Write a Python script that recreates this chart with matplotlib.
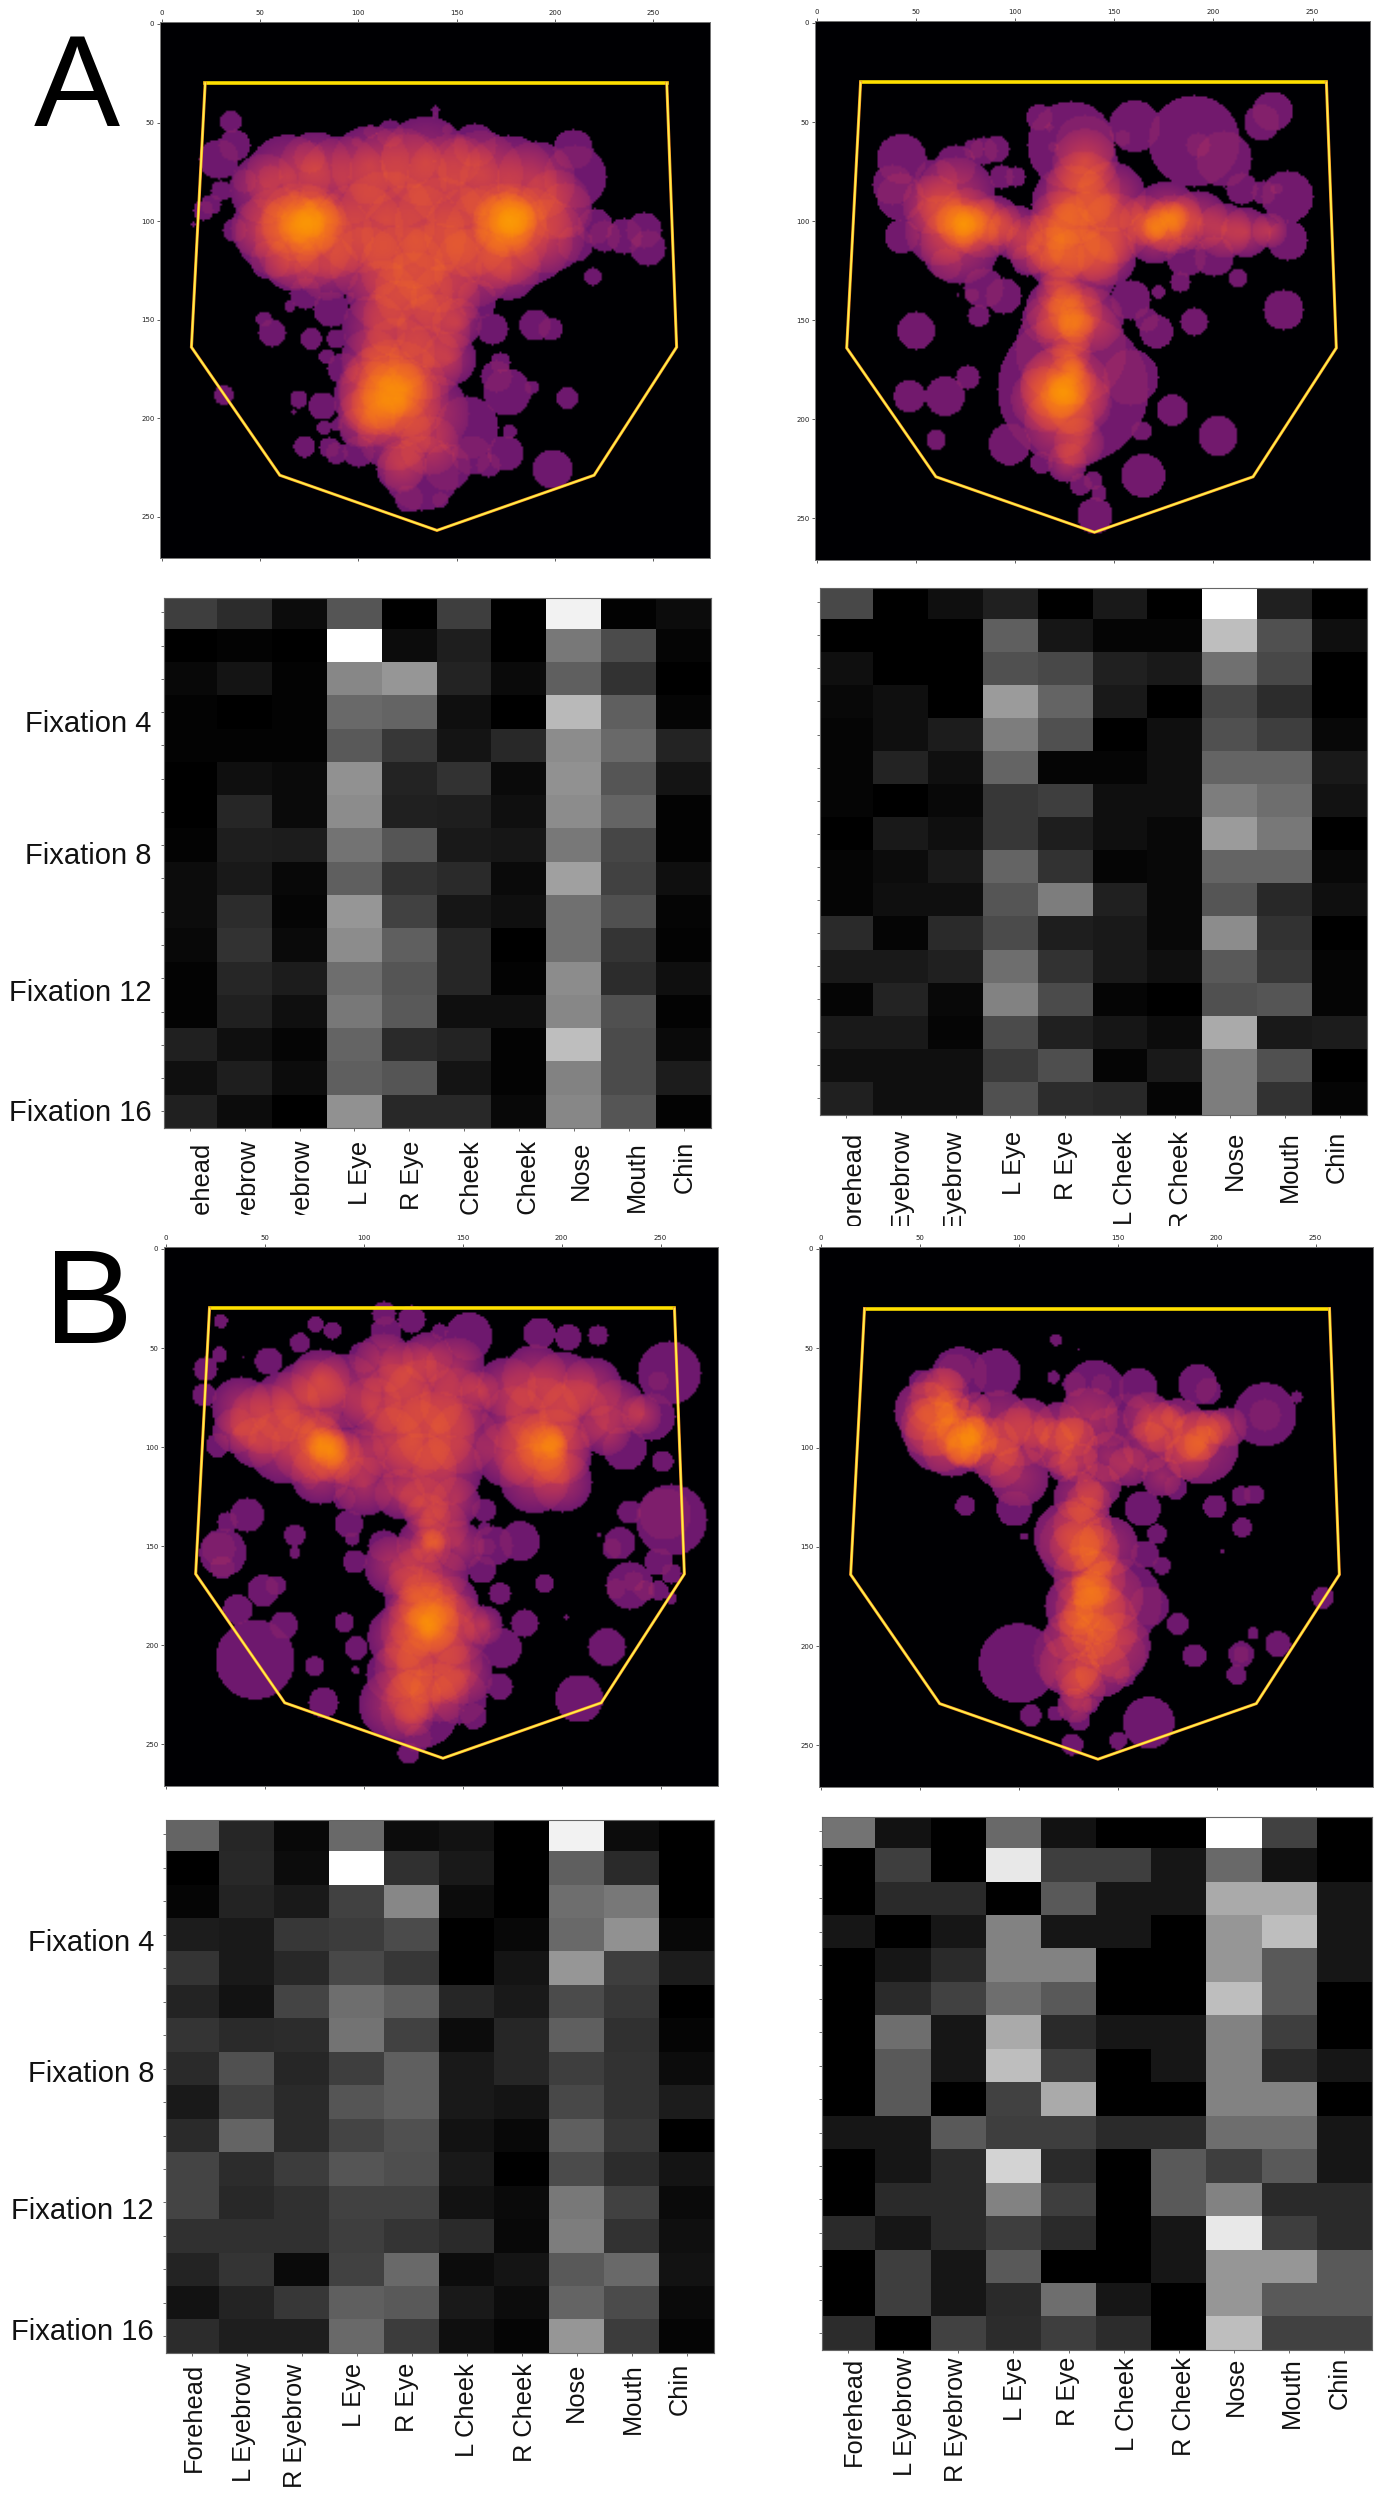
import numpy as np
import matplotlib
matplotlib.use("Agg")
import matplotlib.pyplot as plt
from matplotlib.transforms import Bbox

W, H = 1385, 2500

plt.rcParams['font.family'] = ['Liberation Sans', 'DejaVu Sans']

regions = ["Forehead", "L Eyebrow", "R Eyebrow", "L Eye", "R Eye", "L Cheek", "R Cheek", "Nose", "Mouth", "Chin"]
fixation_labels = ["Fixation 4", "Fixation 8", "Fixation 12", "Fixation 16"]

# face outline, image coordinates
outline_x = [22, 257, 262, 220, 140, 60, 15, 22]
outline_y = [30, 30, 164, 229, 257, 229, 164, 30]

# bubbles: x, y, radius
a_left_outer = [
    (35,50,5.5),(37,62,8),(29,69,10),(30,85,5),(25,92,5),(37,105,6),(16,102,1),(21,95,5),(42,80,6),
    (139,44,2),(139,47,1.8),(145,54,2.5),(106,55,3.5),(116,56,7),(99,60,2.5),(159,62,11),(209,64,10),(210,78,16),
    (75,68,8),(125,70,14),(150,70,12),(55,78,6),(205,95,14),(220,103,9),(235,108,9),(245,105,9),(247,114,9),(225,108,8),(210,112,9),
    (219,128.5,4.5),(189.5,153,8),(197.6,155,6),(51.7,150,4),(56,157,7),(75.8,160,5.5),(88.7,160,5),(83.8,169,4),
    (65,143.5,3),(95.5,138.6,2.5),(86,145,9),(73,137,8),(55,120,10),(31.4,188.4,5),(69.5,190.6,4.5),(67,197,1),
    (81.6,194,7),(82.3,205,3.5),(88.7,203.7,3),(72.4,214.6,5.5),(85,215,5),(88.7,218,5.5),(100,217,8),
    (206,190,5.5),(188,184.6,3.5),(176.7,207,3.5),(174.6,218,9),(198.5,226,10),(166,224,6),(157.5,219,10),
    (125.4,241,7),(141.5,241.8,4),(132,228,19),(121,226,12),(175.6,187,12),(170,179,8),(172,172,5),(168,155,8),
    (160,140,10),(92,175,8),(100,205,10),(155,205,16),(145,225,12),
]
a_left_core = [
    (52,84,14),(64,78,17),(78,74,15),(92,80,18),(106,72,16),(120,78,20),(134,70,18),(148,80,19),(162,76,17),(176,82,20),(190,80,16),(200,92,14),
    (50,104,12),(60,106,18),(72,110,20),(86,108,17),(100,104,18),(114,100,20),(128,108,21),(142,102,19),(156,106,18),(170,108,21),(184,108,20),(196,108,15),
    (66,122,11),(84,124,13),(104,122,15),(122,124,17),(140,124,18),(158,124,16),(176,124,13),
    (70,101,16),(76,100,14),(66,102,12),(78,102,11),(72,100,9),(80,99,8),(68,103,7),(75,101,6),
    (177,100,15),(175,101,12),(178,100,10),(176,99,8),(178,101,6),(174,102,13),(180,99,7),
    (112,138,14),(128,136,16),(144,140,14),(108,154,13),(122,150,16),(138,156,15),(150,152,10),(106,170,12),(120,168,15),(134,172,15),(146,170,11),
    (118,188,22),(112,186,18),(122,190,16),(106,190,15),(116,184,13),(124,186,11),(110,192,11),(118,188,8),(136,198,16),(104,200,12),(118,208,15),(136,214,12),(122,224,10),
]
a_right_outer = [
    (229.5,45,10),(224,50.6,9),(190,60,23),(192,62,6),(160,52.5,13),(154,58.5,4),(112,48,6.5),(128,62,22),(135,62,15),(117,53,2),(119,63,2.5),
    (42.6,69,12.5),(38,82,10),(42,88,12),(84,65,7),(79,64,5),(90.5,64,6.5),(100,78,5),(93,78,6),(42.6,108,8.5),
    (237,88,13),(231.6,84,3),(237,110,10),(225,86,6),(205,69,14),(214,84,8),(212,129,4.5),(183,131,5),(172,136,3.5),
    (235,145,10),(190,151,7),(171,156,8.5),(166,150,6),(158,140,10),(84,134,10),(94,138,9),(78,137.6,3.5),(71,137.6,1),
    (81.5,148,5.5),(50,155.5,9.5),(76,179,6),(46.6,188.5,8),(64.6,188.5,10),(60,210.5,5),(97,212.7,10.5),(113,222,5.5),
    (179,195.5,8),(163.5,206,5),(202,208.5,10),(164.4,228.5,11),(142,237.4,4),(140,248.6,9),(132.7,233,5.5),(139,231,4.5),
    (129,185,38),(128,165,28),(158,179,14),(65,122,8),(200,118,10),(186,118,10),(106,120,8),(70,72,10),(60,80,11),(115,150,12),
]
a_right_core = [
    (58,92,12),(70,88,16),(62,105,14),(76,100,13),(72,112,16),(84,104,12),(90,100,10),(100,106,11),(110,112,12),
    (135,70,13),(134,84,15),(128,92,16),(148,88,14),(122,100,12),(124,110,15),(138,108,18),(150,104,14),(120,118,12),(132,124,16),(146,118,12),
    (165,100,10),(176,98,14),(180,102,12),(170,108,11),(192,100,12),(205,105,11),(216,106,10),(228,105,7),
    (122,136,9),(130,145,11),(125,154,12),(130,153,7),(128,166,8),(120,145,12),(138,150,13),
    (125,185,18),(120,182,14),(128,180,10),(124,188,9),(114,190,13),(132,192,13),(122,202,14),(132,212,10),(126,222,8),
    (74,102,8),(74,102,5),(73,101,10),(176,100,8),(180,98,6),(170,104,5),(124,186,6),(129,176,5),
]
b_left_outer = [
    (27.7,36.8,3.5),(27,53.8,4),(38.7,55,0.7),(51.8,57,7),(67.6,47.8,5),(75.5,38.7,4),(84,41.6,4.5),(110,33,6),(124,36,7),(111,42.6,8),
    (138,42,4),(152.7,44.5,12),(188.3,43,8),(203,45,6.5),(218,44,5),(254,63,16),(248.4,67,5),(20,61,6),(19.4,74,6),(26,99.4,6),
    (231.5,101,11),(250.7,107.5,5.5),(251.8,134,13),(255,137,18),(233.8,133,6),(229,148.6,8),(218.5,144.7,1),(225,151.5,5),
    (178.6,147.6,10),(248.4,158,7),(234,170,12),(227,171.7,5),(236,168,5),(241.7,172.6,5),(248.4,172.6,5),(255,164,5),(255,176.5,3),
    (191,169,4.5),(168.5,174,5.5),(202,186,1),(181,189,7),(169.6,201.5,10),(222.5,201,9.5),(168.5,221,6.5),(208.6,227,12),(155.4,236,6.5),
    (41,134.5,8.5),(31,138,5),(28.8,153.4,12),(28.4,161,6),(26.6,151.5,8.5),(65,144.7,5.5),(65,153.4,3),(49,172.6,8),(55.5,170,5),
    (36.3,182,7.5),(45,207.3,20),(59.5,190,7),(75,210.8,5),(95.7,212.7,2),(79.5,229,7.5),(90,188.6,5),(96,201.5,6),(92.3,139,7),(94,146.6,3.5),
    (95.3,158,6),(90,126.4,5.5),(72.7,117.7,4),(160.6,132,6),(160.6,141.4,3.5),(161.7,150.5,4.5),(159.5,162,7),(122.3,254.5,5.5),(127,247,7),
    (115,215,14),(128,232,20),(148,226,14),(135,205,25),(110,150,8),(245,85,12),(100,55,8),(165,150,10),
]
b_left_core = [
    (38,80,12),(50,86,14),(35,92,9),(60,80,14),(72,75,15),(78,66,12),(90,72,15),(104,80,12),
    (45,98,10),(60,100,15),(72,100,15),(80,100,14),(86,105,11),(78,96,9),(82,100,8),(78,98,6),(84,103,7),(78,114,12),(96,106,12),(100,120,12),
    (110,58,12),(122,62,12),(132,55,10),(146,60,12),(116,76,14),(130,76,16),(146,78,14),(158,72,8),
    (112,98,14),(124,96,16),(136,92,16),(150,96,14),(128,112,15),(142,112,14),(118,124,10),(130,128,10),(146,128,10),
    (172,70,12),(186,65,13),(200,70,14),(215,70,12),(228,80,11),(240,84,8),(176,86,13),(190,84,15),(206,84,14),(222,92,10),
    (172,104,13),(184,102,15),(195,100,15),(200,104,12),(190,100,10),(192,98,7),(196,100,5),(186,116,14),(200,118,12),
    (132,135,9),(140,140,10),(130,150,11),(132,150,7),(135,148,5),(126,165,11),(140,165,10),(132,178,12),(145,178,10),(115,160,12),(148,150,10),(125,175,12),
    (132,192,19),(130,188,14),(134,190,11),(132,188,8),(133,190,5),(118,196,13),(146,192,14),(160,190,8),(120,212,12),(135,210,15),(125,226,11),(138,224,12),(125,236,8),(115,230,14),(150,215,12),
]
b_right_outer = [
    (118.6,46.3,3),(130,50.8,0.7),(117.3,65,3.2),(127.9,68.5,6),(141.5,68.5,5),(138,71.3,15),(160,70.4,10),(190,68.5,10),(195.5,72,6.5),
    (70,63.7,14),(67.8,62,9),(88.7,62.7,12),(50.2,67.5,6),(55.7,80,13),(57.9,89.6,15),(224,83.8,16),(224,84,8),(240,75,3),
    (72.8,129.6,5),(198.7,130,6),(212,124.6,5),(218.5,124,5),(212.6,140.6,5),(202.7,152.7,1),(169.5,143.8,5),(163.6,154,7),(172,159.8,4.5),
    (102.3,145,2),(97.5,131,9),(162.4,131,9),(179,120.4,6),(180,189,5.5),(188.4,205,6),(212,204.4,6.5),(212,204.4,4),(209.7,214.6,5),
    (218,193.8,3),(230.6,199.2,6.5),(253.3,175.8,5.5),(99.7,208.8,20),(165.7,180,10),(150,205,14),(153.5,215.6,5),(105.8,235,5.5),
    (118.4,234,4),(130.5,238,5),(136,230,4),(126.8,249.6,5.5),(149.9,247.7,4.5),(165.3,238.6,13),
    (130,150,20),(150,178,22),(125,205,18),(155,85,12),(145,90,10),
]
b_right_core = [
    (52,82,12),(60,95,14),(66,100,12),(72,95,11),(76,98,10),(72,100,8),(80,94,8),(76,92,6),(72,102,7),(85,100,12),(90,108,10),(70,88,10),(66,80,7),(62,70,8),
    (78,80,6),(90,88,13),(105,88,10),(100,115,12),(115,98,10),(120,90,10),(100,95,12),(60,75,12),(55,90,12),
    (125,100,12),(130,108,8),(122,110,6),(128,95,8),(135,85,12),(145,105,10),(140,120,9),(130,125,10),
    (155,110,8),(165,100,10),(170,90,10),(180,92,13),(192,100,15),(190,95,10),(185,105,9),(192,98,7),(198,90,7),(172,115,8),(205,90,8),(178,85,5),(165,85,10),
    (135,128,9),(132,140,12),(128,150,10),(138,152,10),(132,165,12),(140,166,11),(136,172,8),(128,180,12),(136,182,14),(130,184,6),(145,175,14),(125,145,14),(145,150,12),
    (140,190,16),(138,195,9),(125,195,10),(150,200,13),(125,210,12),(130,215,9),(132,222,9),(142,212,11),(128,230,7),
]

# fixation x region values, as gray level 0-255
a_left_grid = [
    [62,45,12,85,0,62,0,242,2,12],
    [0,3,0,255,12,30,0,120,75,5],
    [8,20,3,135,150,35,10,95,50,0],
    [3,0,3,105,100,15,0,185,95,5],
    [3,3,3,90,55,20,40,140,105,35],
    [0,15,10,145,35,50,10,145,85,20],
    [0,38,10,140,33,30,15,140,100,3],
    [3,30,28,115,85,25,22,120,70,3],
    [12,25,8,95,50,42,10,160,65,15],
    [12,45,5,150,65,22,15,112,80,5],
    [8,50,10,140,95,38,0,112,52,3],
    [3,38,28,110,85,38,3,140,45,15],
    [3,32,15,120,90,15,15,135,80,3],
    [33,15,5,100,42,35,3,190,75,10],
    [15,30,12,95,85,20,3,130,75,28],
    [32,12,0,145,40,40,8,135,85,3],
]
a_right_grid = [
    [72,0,15,32,0,25,0,255,32,0],
    [0,0,0,95,22,5,5,190,80,15],
    [15,0,0,80,72,32,25,112,72,0],
    [8,15,0,155,100,25,0,70,45,0],
    [5,15,28,125,80,0,15,80,62,8],
    [5,35,15,100,5,5,15,100,100,25],
    [5,0,8,55,62,15,15,125,110,18],
    [0,25,15,55,30,15,8,155,120,0],
    [5,12,25,100,50,5,8,100,100,8],
    [5,15,15,85,125,32,8,85,40,15],
    [42,5,42,75,30,25,8,140,50,0],
    [25,25,32,110,50,25,15,90,55,5],
    [5,35,8,130,75,5,0,80,85,5],
    [25,25,5,75,32,22,12,170,25,28],
    [15,15,15,58,78,5,25,125,80,0],
    [32,15,15,80,45,40,5,125,50,5],
]
b_left_grid = [
    [100,38,8,105,12,18,0,242,12,0],
    [0,40,12,255,48,25,0,95,42,0],
    [5,35,25,65,135,12,0,110,120,0],
    [28,25,55,60,75,0,8,105,145,8],
    [52,25,40,72,55,0,20,150,62,28],
    [35,18,68,110,95,38,25,75,55,0],
    [52,42,45,115,65,12,38,95,48,5],
    [42,80,38,62,95,25,38,62,50,12],
    [25,65,42,85,95,25,20,72,50,28],
    [42,100,42,68,80,18,8,95,55,0],
    [68,45,60,85,78,25,0,75,45,20],
    [68,40,48,65,65,18,10,120,65,10],
    [48,48,48,62,52,42,8,125,50,15],
    [35,52,10,65,105,12,20,90,105,18],
    [18,35,55,95,90,25,12,100,75,10],
    [45,30,30,105,60,15,5,150,60,5],
]
b_right_grid = [
    [115,18,0,105,18,0,0,255,65,0],
    [0,62,0,232,62,62,22,105,18,0],
    [0,42,42,0,90,22,22,170,170,22],
    [22,0,22,130,22,22,0,150,190,22],
    [0,22,42,130,130,0,0,150,90,22],
    [0,42,65,110,90,0,0,190,90,0],
    [0,110,22,170,42,22,22,130,62,0],
    [0,90,22,190,62,0,22,130,42,22],
    [0,90,0,65,170,0,0,130,130,0],
    [22,22,90,62,62,42,42,110,110,22],
    [0,22,42,212,42,0,90,62,90,22],
    [0,42,42,130,62,0,90,130,42,42],
    [42,22,42,62,42,0,22,232,62,42],
    [0,62,22,90,0,0,22,150,150,90],
    [0,62,22,42,110,22,0,150,90,90],
    [45,0,65,45,62,45,0,190,65,65],
]

fig = plt.figure(figsize=(W/100, H/100), dpi=100, facecolor='white')


def add_axes_px(left, top, right, bottom):
    return fig.add_axes([left/W, 1-bottom/H, (right-left)/W, (bottom-top)/H])


def put_text(x, y, s, **kw):
    return fig.text(x/W, 1-y/H, s, **kw)


def density(outer, core, alpha, soft, hard):
    yy, xx = np.mgrid[0:272, 0:280]
    n = np.zeros(xx.shape)
    for x, y, r in outer:
        n += (xx-x)**2 + (yy-y)**2 <= r*r
    # the densest stacks are many fixations, so those fade out towards the rim
    for x, y, r in core:
        d = np.sqrt((xx-x)**2 + (yy-y)**2)
        n += soft*np.clip((r*1.25-d)/(r*1.25), 0, 1) + hard*(d <= r*1.25)
    val = 0.27 + 0.53*(1-(1-alpha)**n)
    val[n == 0] = 0
    return val


def bubble_panel(box, outer, core, alpha, soft, hard):
    ax = add_axes_px(*box)
    ax.imshow(density(outer, core, alpha, soft, hard), cmap='inferno', vmin=0, vmax=1,
              interpolation='bilinear', aspect='auto')
    ax.plot(outline_x[:2], outline_y[:2], color='#ffe000', lw=2.6, solid_capstyle='projecting')
    ax.plot(outline_x[1:], outline_y[1:], color='#f08a20', lw=2.2, solid_joinstyle='miter')
    ax.plot(outline_x[1:], outline_y[1:], color='#fff04a', lw=1.3, solid_joinstyle='miter')
    ax.set_xlim(-1, 279)
    ax.set_ylim(271, -1)
    ax.set_xticks(range(0, 251, 50))
    ax.set_yticks(range(0, 251, 50))
    ax.tick_params(top=True, labeltop=True, bottom=True, labelbottom=False, length=2.5, width=0.6,
                   labelsize=5, pad=1.5, color='#444444', labelcolor='#222222')
    plt.setp(ax.get_xticklabels() + ax.get_yticklabels(), family='DejaVu Sans')
    for s in ax.spines.values():
        s.set_color('#777777')
        s.set_linewidth(0.7)
    return ax


def grid_panel(box, grid):
    ax = add_axes_px(*box)
    ax.imshow(np.array(grid), cmap='gray', vmin=0, vmax=255, interpolation='nearest', aspect='auto')
    ax.set_xlim(-0.47, 9.5)
    ax.set_ylim(15.5, -0.43)
    ax.set_xticks(range(10))
    ax.set_yticks(range(16))
    ax.set_xticklabels([])
    ax.set_yticklabels([])
    ax.tick_params(length=2, width=0.6, color='#555555')
    for s in ax.spines.values():
        s.set_color('#666666')
        s.set_linewidth(0.8)
    return ax


def region_labels(xs, top, clip_at=None):
    for x, name in zip(xs, regions):
        t = put_text(x, top, name, rotation=90, ha='center', va='top', fontsize=18.3, color='#111111')
        if clip_at is not None:
            t.set_clip_box(Bbox([[0, H-clip_at], [W, H]]))
            t.set_clip_on(True)


def fixation_text(ys, right):
    for y, name in zip(ys, fixation_labels):
        put_text(right, y, name, ha='right', va='center', fontsize=21, color='#111111')


bubble_panel((160, 22, 710, 558), a_left_outer, a_left_core, 0.08, 3.5, 1)
bubble_panel((815, 21, 1370, 560), a_right_outer, a_right_core, 0.09, 4, 1)
bubble_panel((164, 1247, 718, 1786), b_left_outer, b_left_core, 0.08, 4, 1)
bubble_panel((819, 1247, 1373, 1787), b_right_outer, b_right_core, 0.08, 2.5, 1.5)

grid_panel((164, 598, 711, 1128), a_left_grid)
grid_panel((820, 588, 1367, 1115), a_right_grid)
grid_panel((166, 1820, 714, 2353), b_left_grid)
grid_panel((822, 1817, 1372, 2350), b_right_grid)

region_labels([201, 249, 303, 360, 412, 472, 529, 581, 637, 685], 1141, clip_at=1215)
region_labels([853, 903, 955, 1014, 1066, 1125, 1181, 1235, 1290, 1337], 1131, clip_at=1226)
region_labels([194, 244, 295, 354, 407, 467, 525, 576, 633, 680], 2363)
region_labels([854, 905, 956, 1015, 1068, 1127, 1184, 1236, 1292, 1340], 2357)

fixation_text([724, 856, 993, 1113], 151.5)
fixation_text([1943, 2074, 2211, 2332], 154)

put_text(34, 126, "A", fontsize=93, va='baseline', color='black')
put_text(44, 1343, "B", fontsize=96, va='baseline', color='black')

fig.savefig("out.png", dpi=100)
